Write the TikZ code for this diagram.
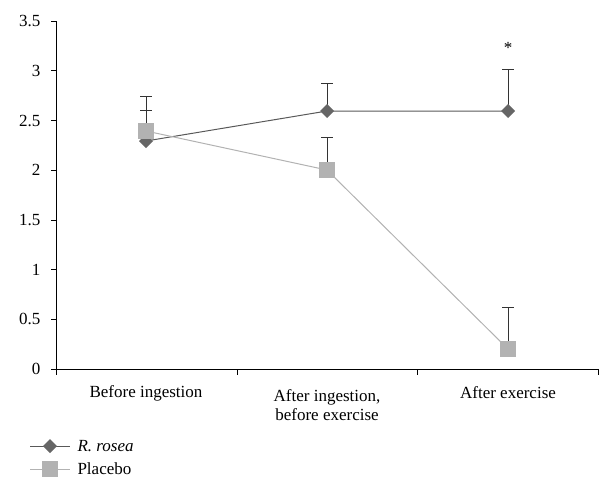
\documentclass[tikz,border=0pt]{standalone}
\usepackage{fontspec}
\setmainfont{Liberation Serif}
\begin{document}
\begin{tikzpicture}[x=1pt,y=-1pt,font=\fontsize{17}{19}\selectfont,
  ax/.style={black,line width=0.8pt},
  rline/.style={line width=1pt,draw=black!65},
  pline/.style={line width=1pt,draw=black!30},
  err/.style={line width=1pt,draw=black!80}]
\useasboundingbox (0,0) rectangle (612,496);
% axes
\draw[ax] (56,21) -- (56,369) -- (598,369);
\foreach \v/\l in {0/0,0.5/0.5,1/1,1.5/1.5,2/2,2.5/2.5,3/3,3.5/3.5}{
  \draw[ax] (51,369-99.4*\v) -- (56,369-99.4*\v);
  \node[anchor=east] at (44,369-99.4*\v) {\l};}
\foreach \x in {56,237,417,598} \draw[ax] (\x,369) -- (\x,375);
\node (c1) at (146,393) {Before ingestion};
\node[align=center] (c2) at (327,405) {After ingestion,\\ before exercise};
\node (c3) at (508,393) {After exercise};
% error bars
\draw[err] (146,141) -- (146,96) (140,110)--(152,110) (140,96)--(152,96);
\draw[err] (327,111) -- (327,83) (321,83)--(333,83);
\draw[err] (327,170) -- (327,137) (321,137)--(333,137);
\draw[err] (508,111) -- (508,69) (502,69)--(514,69);
\draw[err] (508,349) -- (508,307) (502,307)--(514,307);
\node at (508,48) {*};
% lines
\coordinate (r1) at (146,141); \coordinate (r2) at (327,111); \coordinate (r3) at (508,111);
\coordinate (p1) at (146,131); \coordinate (p2) at (327,170); \coordinate (p3) at (508,349);
\draw[rline] (r1)--(r2)--(r3);
\draw[pline] (p1)--(p2)--(p3);
\foreach \p in {r1,r2,r3} \fill[black!60] (\p) +(0,-7) -- +(7,0) -- +(0,7) -- +(-7,0) -- cycle;
\foreach \p in {p1,p2,p3} \fill[black!30] (\p) +(-8,-8) rectangle +(8,8);
% legend
\draw[rline] (30,446) -- (70,446); \fill[black!60] (50,439) -- (57,446) -- (50,453) -- (43,446) -- cycle;
\node[anchor=west] (l1) at (74,446) {\textit{R. rosea}};
\draw[pline] (30,469) -- (70,469); \fill[black!30] (42,461) rectangle (58,477);
\node[anchor=west] (l2) at (74,469) {Placebo};
\end{tikzpicture}
\end{document}
